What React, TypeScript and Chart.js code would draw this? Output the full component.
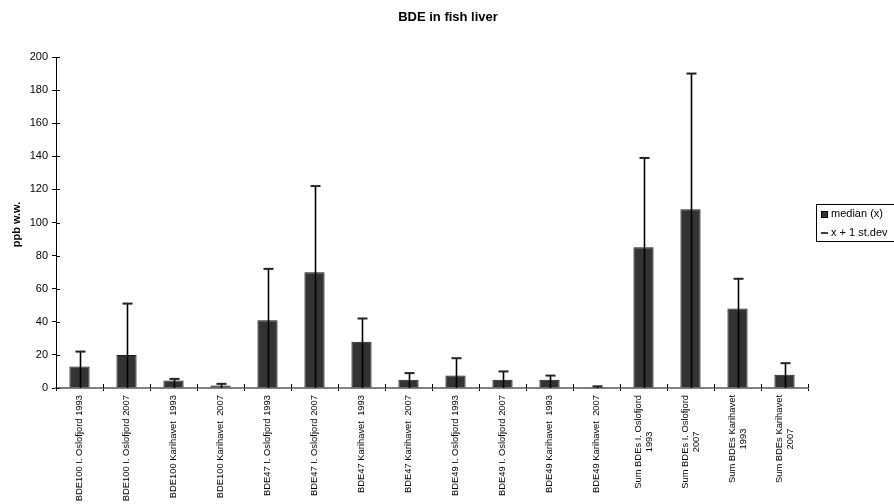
import { useEffect, useRef } from "react";
import { Chart, registerables } from "chart.js";

Chart.register(...registerables);

const chartTitle = "BDE in fish liver";
const yAxisTitle = "ppb w.w.";
const legendMedian = "median (x)";
const legendUpper = "x + 1 st.dev";

const categories: (string | string[])[] = [
  "BDE100 I. Oslofjord 1993",
  "BDE100 I. Oslofjord 2007",
  "BDE100 Karihavet  1993",
  "BDE100 Karihavet  2007",
  "BDE47 I. Oslofjord 1993",
  "BDE47 I. Oslofjord 2007",
  "BDE47 Karihavet  1993",
  "BDE47 Karihavet  2007",
  "BDE49 I. Oslofjord 1993",
  "BDE49 I. Oslofjord 2007",
  "BDE49 Karihavet  1993",
  "BDE49 Karihavet  2007",
  ["Sum BDEs I. Oslofjord", "1993"],
  ["Sum BDEs I. Oslofjord", "2007"],
  ["Sum BDEs Karihavet", "1993"],
  ["Sum BDEs Karihavet", "2007"],
];

const medianValues = [13, 20, 4.5, 1.5, 41, 70, 28, 5, 7.5, 5, 5, 0.5, 85, 108, 48, 8];
const upperValues = [22, 51, 5.5, 2.5, 72, 122, 42, 9, 18, 10, 7.5, 1, 139, 190, 66, 15];

const yMin = 0;
const yMax = 200;
const yStep = 20;

const FONT = "Arial, 'Liberation Sans', sans-serif";

const decorPlugin = {
  id: "decor",
  afterDraw(chart: any) {
    const ctx = chart.ctx as CanvasRenderingContext2D;
    const x = chart.scales.x;
    const y = chart.scales.y;
    const area = chart.chartArea;
    ctx.save();

    // error bars
    const meta = chart.getDatasetMeta(0);
    meta.data.forEach((bar: any, i: number) => {
      const cx = Math.round(bar.x) + 0.5;
      const y0 = y.getPixelForValue(0);
      const yt = y.getPixelForValue(upperValues[i]);
      ctx.lineWidth = 1.6;
      ctx.strokeStyle = "#000";
      ctx.beginPath();
      ctx.moveTo(cx, y0);
      ctx.lineTo(cx, yt);
      ctx.stroke();
      ctx.lineWidth = 2;
      ctx.strokeStyle = "#222";
      ctx.beginPath();
      ctx.moveTo(cx - 5, yt);
      ctx.lineTo(cx + 5, yt);
      ctx.stroke();
    });

    // inner tick marks
    ctx.lineWidth = 1;
    ctx.strokeStyle = "#000";
    y.ticks.forEach((t: any) => {
      const py = Math.round(y.getPixelForValue(t.value)) + 0.5;
      ctx.beginPath();
      ctx.moveTo(area.left, py);
      ctx.lineTo(area.left + 4, py);
      ctx.stroke();
    });
    const step = x.getPixelForValue(1) - x.getPixelForValue(0);
    for (let i = 0; i <= categories.length; i++) {
      const px = Math.round(x.getPixelForValue(i) - step / 2) + 0.5;
      ctx.beginPath();
      ctx.moveTo(px, area.bottom - 4);
      ctx.lineTo(px, area.bottom);
      ctx.stroke();
    }

    // x labels (rotated)
    ctx.fillStyle = "#000";
    ctx.font = `9.4px ${FONT}`;
    categories.forEach((lab, i) => {
      const lines = Array.isArray(lab) ? lab : [lab];
      const widths = lines.map((l) => ctx.measureText(l).width);
      const maxW = Math.max(...widths);
      const cx = x.getPixelForValue(i);
      const lh = 11;
      const n = lines.length;
      lines.forEach((l, k) => {
        const off = (k - (n - 1) / 2) * lh;
        ctx.save();
        ctx.translate(cx + off, area.bottom + 7 + maxW / 2);
        ctx.rotate(-Math.PI / 2);
        ctx.textAlign = "center";
        ctx.textBaseline = "middle";
        ctx.fillText(l, 0, 0);
        ctx.restore();
      });
    });

    // title
    ctx.font = `bold 13px ${FONT}`;
    ctx.textAlign = "center";
    ctx.textBaseline = "middle";
    ctx.fillText(chartTitle, 448, 17);

    // y title
    ctx.save();
    ctx.translate(17, (area.top + area.bottom) / 2 + 2);
    ctx.rotate(-Math.PI / 2);
    ctx.font = `bold 11px ${FONT}`;
    ctx.textAlign = "center";
    ctx.textBaseline = "middle";
    ctx.fillText(yAxisTitle, 0, 0);
    ctx.restore();

    // legend
    ctx.strokeStyle = "#000";
    ctx.lineWidth = 1;
    ctx.strokeRect(816.5, 204.5, 90, 37);
    ctx.fillStyle = "#333";
    ctx.fillRect(821, 211, 6, 6);
    ctx.strokeStyle = "#000";
    ctx.strokeRect(821.5, 211.5, 6, 6);
    ctx.lineWidth = 1.5;
    ctx.beginPath();
    ctx.moveTo(821, 233);
    ctx.lineTo(828, 233);
    ctx.stroke();
    ctx.fillStyle = "#000";
    ctx.font = `11px ${FONT}`;
    ctx.textAlign = "left";
    ctx.textBaseline = "middle";
    ctx.fillText(legendMedian, 831, 214);
    ctx.fillText(legendUpper, 831, 233);

    ctx.restore();
  },
};

export default function App() {
  const ref = useRef<HTMLCanvasElement>(null);
  useEffect(() => {
    document.body.style.margin = "0";
    const chart = new Chart(ref.current!, {
      type: "bar",
      data: {
        labels: categories as any,
        datasets: [
          {
            label: legendMedian,
            data: medianValues,
            backgroundColor: "#333333",
            borderColor: "#1a1a1a",
            borderWidth: 1,
            categoryPercentage: 1,
            barPercentage: 0.43,
          },
        ],
      },
      options: {
        animation: false,
        responsive: false,
        devicePixelRatio: 1,
        layout: { padding: { top: 57, right: 86, bottom: 0, left: 0 } },
        plugins: {
          legend: { display: false },
          tooltip: { enabled: false },
          title: { display: false },
        },
        scales: {
          x: {
            grid: { display: true, drawOnChartArea: false, offset: true, tickLength: 3, color: "#000" },
            border: { color: "#808080", width: 2 },
            ticks: { display: false },
            afterFit: (s: any) => {
              s.height = 504 - 388;
            },
          },
          y: {
            min: yMin,
            max: yMax,
            grid: { drawOnChartArea: false, tickLength: 4, color: "#000" },
            border: { color: "#000", width: 1 },
            ticks: {
              stepSize: yStep,
              color: "#000",
              font: { family: FONT, size: 11 },
              padding: 4,
            },
            afterFit: (s: any) => {
              s.width = 56;
            },
          },
        },
      },
      plugins: [decorPlugin],
    });
    return () => chart.destroy();
  }, []);
  return <canvas ref={ref} width={894} height={504} style={{ display: "block" }} />;
}
